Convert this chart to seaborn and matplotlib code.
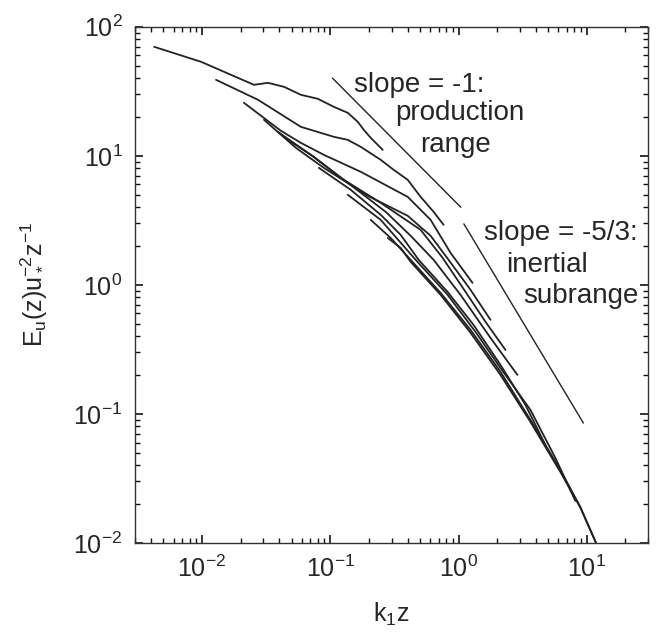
import matplotlib
matplotlib.use("Agg")
import matplotlib.pyplot as plt
from matplotlib.ticker import LogLocator, NullFormatter
import numpy as np
import pandas as pd
import seaborn as sns

# spectra (k1*z, normalised spectrum), one pair per run
c1_x = [0.00423, 0.00982, 0.0254, 0.0326, 0.0435, 0.0589, 0.0799, 0.1065, 0.1368, 0.1637, 0.1823, 0.2066, 0.2562]
c1_y = [69.98, 53.55, 35.51, 36.81, 34.27, 29.72, 27.67, 23.98, 21.54, 18.35, 15.91, 13.79, 11.13]

c2_x = [0.01285, 0.0273, 0.0589, 0.1065, 0.1368, 0.1728, 0.2472, 0.3119, 0.4011, 0.5062, 0.6390, 0.7644]
c2_y = [38.82, 27.18, 16.78, 14.04, 13.30, 11.74, 9.31, 7.79, 6.52, 4.81, 3.68, 2.92]

c3_x = [0.0212, 0.0412, 0.0589, 0.0890, 0.1728, 0.4011, 0.6055, 0.8664, 1.285]
c3_y = [25.76, 15.63, 12.61, 10.18, 7.52, 4.81, 3.19, 1.770, 1.036]

c4_x = [0.0304, 0.0539, 0.0890, 0.1957, 0.4011, 0.6055, 0.8361, 1.240, 1.774]
c4_y = [19.02, 11.53, 8.07, 4.90, 3.43, 2.40, 1.563, 0.915, 0.536]

c5_x = [0.0390, 0.0705, 0.1207, 0.2472, 0.5062, 0.7509, 1.134, 1.622, 2.322]
c5_y = [15.35, 10.18, 6.75, 4.32, 2.67, 1.620, 0.882, 0.517, 0.313]

c6_x = [0.0467, 0.0744, 0.1368, 0.2704, 0.4231, 0.6390, 1.036, 1.774, 2.878]
c6_y = [13.30, 9.82, 6.18, 3.68, 2.40, 1.563, 0.837, 0.388, 0.2006]

c7_x = [0.0814, 0.1444, 0.2472, 0.3537, 0.4885, 0.8212, 1.308, 2.122, 3.322, 4.754]
c7_y = [8.07, 5.45, 3.49, 2.44, 1.563, 0.882, 0.490, 0.240, 0.1174, 0.0575]

c8_x = [0.1368, 0.2472, 0.4628, 0.8212, 1.356, 2.122, 3.634, 5.687, 8.138]
c8_y = [4.99, 3.19, 1.563, 0.837, 0.432, 0.227, 0.1074, 0.0456, 0.0212]

c9_x = [0.2066, 0.2957, 0.4231, 0.7244, 1.240, 2.122, 3.634, 6.220, 8.901, 11.8]
c9_y = [3.19, 2.31, 1.563, 0.867, 0.448, 0.212, 0.0898, 0.0368, 0.0190, 0.01]

c10_x = [0.2803, 0.3537, 0.4231, 0.7244, 1.240, 2.122, 3.634, 6.220, 8.901, 11.8]
c10_y = [2.31, 1.936, 1.508, 0.837, 0.425, 0.2006, 0.0867, 0.0355, 0.0188, 0.01]

# reference slopes (end points)
slope1_x = [0.104, 1.04]
slope1_y = [40.0, 4.0]
slope53_x = [1.10, 9.4]
slope53_y = [2.97, 0.085]

runs = [(c1_x, c1_y), (c2_x, c2_y), (c3_x, c3_y), (c4_x, c4_y), (c5_x, c5_y),
        (c6_x, c6_y), (c7_x, c7_y), (c8_x, c8_y), (c9_x, c9_y), (c10_x, c10_y)]

frames = []
for i, (xs, ys) in enumerate(runs):
    frames.append(pd.DataFrame({"k1z": xs, "E": ys, "run": i}))
df = pd.concat(frames, ignore_index=True)

sns.set_style("ticks")
plt.rcParams.update({
    "font.family": ["Liberation Sans", "DejaVu Sans"],
    "mathtext.default": "regular",
    "axes.unicode_minus": False,
})

fig, ax = plt.subplots(figsize=(6.57, 6.38), dpi=100)
fig.subplots_adjust(left=0.2055, right=0.9863, bottom=0.149, top=0.958)

sns.lineplot(data=df, x="k1z", y="E", units="run", estimator=None, sort=False,
             color="#222222", linewidth=1.3, ax=ax)
sns.lineplot(x=slope1_x, y=slope1_y, color="#222222", linewidth=1.0, ax=ax)
sns.lineplot(x=slope53_x, y=slope53_y, color="#222222", linewidth=1.0, ax=ax)

ax.set_xscale("log")
ax.set_yscale("log")
ax.set_xlim(0.003, 30)
ax.set_ylim(0.01, 100)

for axis in (ax.xaxis, ax.yaxis):
    axis.set_major_locator(LogLocator(base=10, numticks=20))
    axis.set_minor_locator(LogLocator(base=10, subs=np.arange(2, 10), numticks=100))
    axis.set_minor_formatter(NullFormatter())

ax.text(0.497, 31.3, "slope = -1:", ha="center", va="baseline", fontsize=20)
ax.text(1.018, 19.0, "production", ha="center", va="baseline", fontsize=20)
ax.text(0.948, 10.74, "range", ha="center", va="baseline", fontsize=20)
ax.text(6.22, 2.23, "slope = -5/3:", ha="center", va="baseline", fontsize=20)
ax.text(4.88, 1.261, "inertial", ha="center", va="baseline", fontsize=20)
ax.text(9.06, 0.725, "subrange", ha="center", va="baseline", fontsize=20)

ax.set_xlabel("$k_1z$", fontsize=18, labelpad=14)
ax.set_ylabel("$E_u(z)u_*^{-2}z^{-1}$", fontsize=18, labelpad=18)

ax.tick_params(axis="both", which="both", direction="in", top=True, right=True,
               bottom=True, left=True, labelsize=18, color="#111111")
ax.tick_params(axis="both", which="major", length=6, width=1.2, pad=9)
ax.tick_params(axis="both", which="minor", length=3.5, width=1.0)
for s in ax.spines.values():
    s.set_linewidth(1.0)
    s.set_color("#333333")

fig.savefig("out.png", dpi=100)
